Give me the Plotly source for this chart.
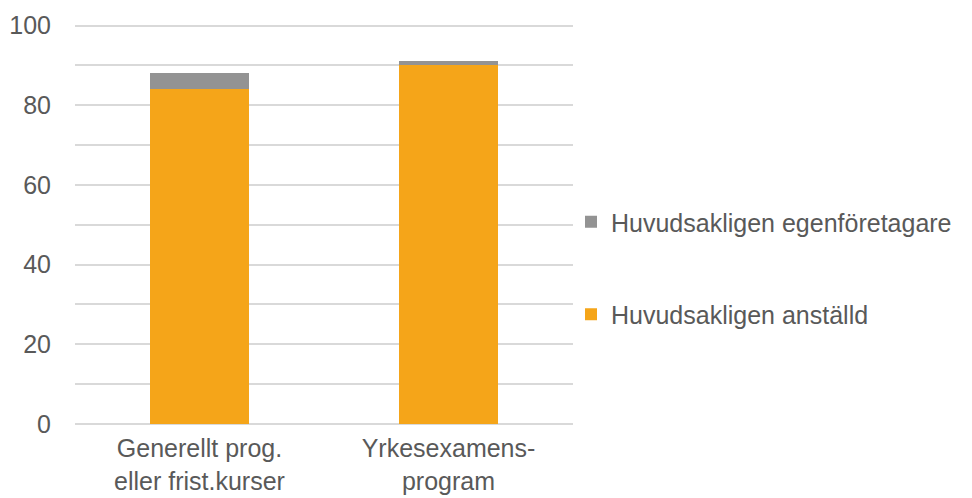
import plotly.graph_objects as go

categories = ["Generellt prog.<br>eller frist.kurser", "Yrkesexamens-<br>program"]
anstalld = [84, 90]
egenforetagare = [4, 1]

fig = go.Figure()
fig.add_trace(go.Bar(x=categories, y=anstalld, name="Huvudsakligen anställd",
                     marker=dict(color="#F5A519", line=dict(width=0)),
                     legendgroup="a", legendrank=2))
fig.add_trace(go.Bar(x=categories, y=egenforetagare, name="Huvudsakligen egenföretagare",
                     marker=dict(color="#939393", line=dict(width=0)),
                     legendgroup="b", legendrank=1))

# page has an 8px body margin, so the figure is sized to fit inside it
fig.update_layout(
    barmode="stack",
    bargap=0.6,
    width=964, height=490,
    margin=dict(l=67, r=399, t=16, b=74),
    plot_bgcolor="white", paper_bgcolor="white",
    font=dict(family="Liberation Sans, Arial, sans-serif", size=25, color="#595959"),
    showlegend=True,
    legend=dict(traceorder="grouped", x=0.996, y=0.39, xanchor="left", yanchor="middle",
                tracegroupgap=57, font=dict(size=25, color="#595959"),
                itemwidth=30, bgcolor="rgba(0,0,0,0)"),
    xaxis=dict(showline=False, ticks="", showgrid=False, automargin=False,
               ticklabelstandoff=7),
    yaxis=dict(range=[0, 100.4], tickvals=[0, 20, 40, 60, 80, 100], showgrid=True,
               gridcolor="#D9D9D9", gridwidth=1.5,
               zeroline=True, zerolinecolor="#D9D9D9", zerolinewidth=1.5,
               minor=dict(tickvals=[10, 30, 50, 70, 90], showgrid=True,
                          gridcolor="#D9D9D9", gridwidth=1.5),
               ticks="", ticklabelstandoff=23, showline=False, automargin=False),
)

fig.write_html("out.html")
